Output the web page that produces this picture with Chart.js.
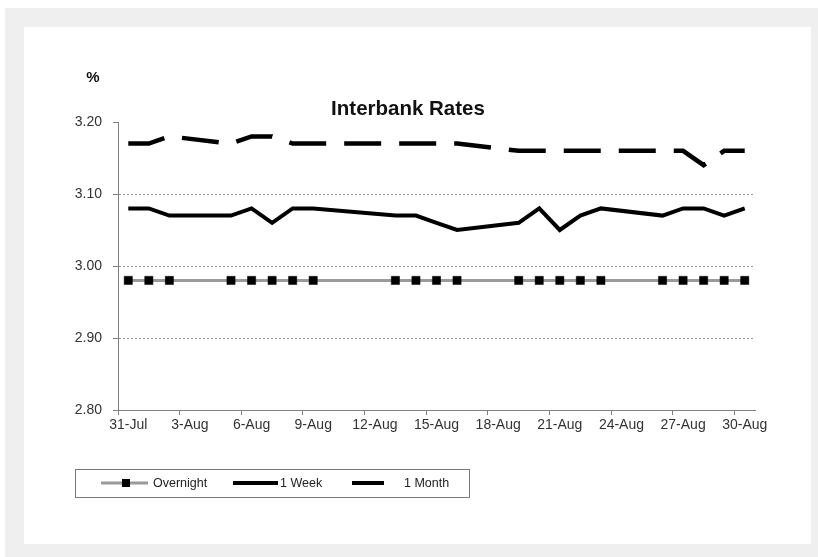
<!DOCTYPE html>
<html>
<head>
<meta charset="utf-8">
<script src="https://cdn.jsdelivr.net/npm/chart.js@4"></script>
<style>
  html, body { margin: 0; padding: 0; background: #fff; }
  #wrap { width: 818px; height: 557px; }
</style>
</head>
<body>
<div id="wrap"><canvas id="rateChart" width="818" height="557"></canvas></div>
<script>
// Dates with a fixing (business days only)
const dates = ['31-Jul', '1-Aug', '2-Aug', '5-Aug', '6-Aug', '7-Aug', '8-Aug', '9-Aug',
    '13-Aug', '14-Aug', '15-Aug', '16-Aug', '19-Aug', '20-Aug', '21-Aug', '22-Aug', '23-Aug',
    '26-Aug', '27-Aug', '28-Aug', '29-Aug', '30-Aug'];

const overnight = [2.98, 2.98, 2.98, 2.98, 2.98, 2.98, 2.98, 2.98, 2.98, 2.98, 2.98,
    2.98, 2.98, 2.98, 2.98, 2.98, 2.98, 2.98, 2.98, 2.98, 2.98, 2.98];
const oneWeek = [3.08, 3.08, 3.07, 3.07, 3.08, 3.06, 3.08, 3.08, 3.07, 3.07, 3.06,
    3.05, 3.06, 3.08, 3.05, 3.07, 3.08, 3.07, 3.08, 3.08, 3.07, 3.08];
const oneMonth = [3.17, 3.17, 3.18, 3.17, 3.18, 3.18, 3.17, 3.17, 3.17, 3.17, 3.17,
    3.17, 3.16, 3.16, 3.16, 3.16, 3.16, 3.16, 3.16, 3.14, 3.16, 3.16];

// Axis tick labels
const xTickLabels = ['31-Jul', '3-Aug', '6-Aug', '9-Aug', '12-Aug', '15-Aug',
    '18-Aug', '21-Aug', '24-Aug', '27-Aug', '30-Aug'];
const yTicks = [2.80, 2.90, 3.00, 3.10, 3.20];

// day number counted from 31-Jul, point sits in the middle of its day
function dayPos(label) {
    const [d, m] = label.split('-');
    return (m === 'Jul' ? +d - 31 : +d) + 0.5;
}
function toPoints(values) {
    return values.map((v, i) => ({ x: dayPos(dates[i]), y: v }));
}

const FONT = '"Liberation Sans", Arial, sans-serif';

// Background, title, % label and legend
const decorations = {
    id: 'decorations',
    beforeDraw(chart) {
        const c = chart.ctx;
        c.save();
        c.fillStyle = '#fff';
        c.fillRect(0, 0, 818, 557);
        c.fillStyle = '#efefef';
        c.fillRect(5, 8, 813, 549);
        c.fillStyle = '#fff';
        c.fillRect(24, 27, 787, 517);
        c.restore();
    },
    afterDraw(chart) {
        const c = chart.ctx;
        c.save();
        c.fillStyle = '#111';
        c.textBaseline = 'middle';
        c.textAlign = 'center';
        c.font = 'bold 20.5px ' + FONT;
        c.fillText('Interbank Rates', 408, 109);
        c.font = 'bold 15px ' + FONT;
        c.fillText('%', 93, 78);

        // legend box
        c.strokeStyle = '#7a7a7a';
        c.lineWidth = 1;
        c.strokeRect(75.5, 469.5, 394, 28);
        const ly = 483;
        c.textAlign = 'left';
        c.font = '12.5px ' + FONT;
        c.fillStyle = '#222';

        c.strokeStyle = '#9a9a9a';
        c.lineWidth = 3;
        c.beginPath(); c.moveTo(101, ly); c.lineTo(148, ly); c.stroke();
        c.fillStyle = '#000';
        c.fillRect(122, ly - 4, 8, 8);
        c.fillStyle = '#222';
        c.fillText('Overnight', 153, ly + 1);

        c.strokeStyle = '#000';
        c.lineWidth = 4;
        c.beginPath(); c.moveTo(233, ly); c.lineTo(278, ly); c.stroke();
        c.fillText('1 Week', 280, ly + 1);

        c.beginPath(); c.moveTo(352, ly); c.lineTo(384, ly); c.stroke();
        c.fillText('1 Month', 404, ly + 1);
        c.restore();
    }
};

const ctx = document.getElementById('rateChart').getContext('2d');
const rateChart = new Chart(ctx, {
    type: 'line',
    data: {
        datasets: [
            {
                label: 'Overnight',
                data: toPoints(overnight),
                borderColor: '#9a9a9a',
                borderWidth: 3,
                pointStyle: 'rect',
                pointRadius: 5.8,
                pointBackgroundColor: '#000',
                pointBorderColor: '#000',
                pointBorderWidth: 0.5,
                order: 3
            },
            {
                label: '1 Week',
                data: toPoints(oneWeek),
                borderColor: '#000',
                borderWidth: 4,
                pointRadius: 0,
                order: 2
            },
            {
                label: '1 Month',
                data: toPoints(oneMonth),
                borderColor: '#000',
                borderWidth: 4.5,
                borderDash: [37, 18],
                borderCapStyle: 'butt',
                pointRadius: 0,
                order: 1
            }
        ]
    },
    options: {
        responsive: false,
        animation: false,
        layout: { padding: { top: 122, right: 63, left: 0, bottom: 0 } },
        plugins: {
            legend: { display: false },
            tooltip: { enabled: false }
        },
        elements: { line: { tension: 0 } },
        scales: {
            x: {
                type: 'linear',
                min: 0,
                max: 31,
                afterFit(scale) { scale.height = 147; },
                afterBuildTicks(scale) {
                    scale.ticks = xTickLabels.map((_, i) => ({ value: i * 3 }));
                },
                ticks: {
                    autoSkip: false,
                    maxRotation: 0,
                    labelOffset: 10.3,
                    padding: 2,
                    color: '#333',
                    font: { family: FONT, size: 14 },
                    callback: (v) => xTickLabels[v / 3]
                },
                grid: {
                    drawOnChartArea: false,
                    tickLength: 5,
                    tickColor: '#808080'
                },
                border: { color: '#808080', width: 1 }
            },
            y: {
                min: 2.8,
                max: 3.2,
                afterFit(scale) { scale.width = 118; },
                afterBuildTicks(scale) {
                    scale.ticks = yTicks.map(v => ({ value: v }));
                },
                ticks: {
                    padding: 11,
                    color: '#333',
                    font: { family: FONT, size: 14 },
                    callback: (v) => v.toFixed(2)
                },
                grid: {
                    color: (c) => (c.tick && Math.abs(c.tick.value - 3.2) < 1e-6) ? 'rgba(0,0,0,0)' : '#9a9a9a',
                    lineWidth: 1,
                    tickLength: 5,
                    tickColor: '#808080'
                },
                border: { color: '#808080', width: 1, dash: [2, 2] }
            }
        }
    },
    plugins: [decorations]
});
</script>
</body>
</html>
